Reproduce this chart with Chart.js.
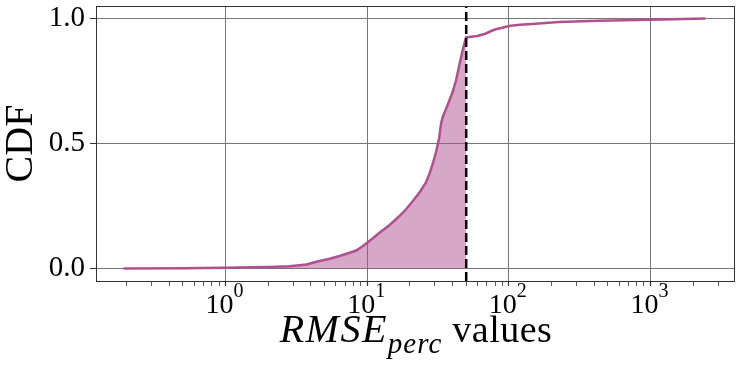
<!DOCTYPE html>
<html>
<head>
<meta charset="utf-8">
<script src="https://cdn.jsdelivr.net/npm/chart.js@4.4.1/dist/chart.umd.min.js"></script>
<style>
  html, body { margin: 0; padding: 0; background: #ffffff; }
  #wrap { width: 741px; height: 368px; position: relative; }
</style>
</head>
<body>
<div id="wrap"><canvas id="c" width="741" height="368"></canvas></div>
<script>
// ---- data ----
const rmseValues = [0.19, 0.5, 1.0, 2.0, 2.84, 3.72, 4.37, 4.87, 5.43, 6.38, 7.51, 8.37, 9.32, 10, 10.96, 12.2, 14.4, 16.9, 18.8, 21.0, 23.4, 26.0, 27.5, 29.0, 30.6, 32.3, 33.2, 34.1, 36.0, 38.0, 40.1, 42.4, 44.7, 47.2, 49.8, 50.6, 60, 68.9, 75, 81, 90, 100, 120, 146, 226, 432, 1000, 2440];
const cdfValues  = [0.0, 0.001, 0.003, 0.006, 0.009, 0.016, 0.027, 0.033, 0.039, 0.050, 0.063, 0.072, 0.090, 0.103, 0.121, 0.143, 0.174, 0.210, 0.237, 0.270, 0.304, 0.344, 0.378, 0.418, 0.465, 0.525, 0.579, 0.605, 0.638, 0.672, 0.706, 0.753, 0.813, 0.873, 0.924, 0.925, 0.930, 0.940, 0.950, 0.957, 0.963, 0.970, 0.975, 0.978, 0.986, 0.991, 0.995, 1.0];
const threshold = 50;
const yTickValues = [0, 0.5, 1.0];
const xMajorTicks = [1, 10, 100, 1000];
const xMajorBase = ['10', '10', '10', '10'];
const xMajorExponents = ['0', '1', '2', '3'];
const xMinorTicks = [0.2,0.3,0.4,0.5,0.6,0.7,0.8,0.9, 2,3,4,5,6,7,8,9, 20,30,40,50,60,70,80,90, 200,300,400,500,600,700,800,900, 2000,3000];
const yLimits = [-0.05, 1.05];
const xLimits = [0.1216, 3890];

const lineColor = '#b0508f';
const fillColor = 'rgba(176,80,143,0.5)';
const serif = "'Liberation Serif', 'Times New Roman', serif";

const curvePts = rmseValues.map((v, i) => ({x: v, y: cdfValues[i]}));
const fillPts = curvePts.filter(p => p.x <= threshold);
const vlinePts = [{x: threshold, y: yLimits[0]}, {x: threshold, y: yLimits[1]}];

const framePlugin = {
  id: 'frame',
  afterDatasetsDraw(chart) {
    const {ctx, chartArea: a} = chart;
    ctx.save();
    ctx.strokeStyle = '#333333';
    ctx.lineWidth = 1;
    ctx.strokeRect(Math.round(a.left) + 0.5, Math.round(a.top) + 0.5, Math.round(a.right - a.left), Math.round(a.bottom - a.top));
    ctx.restore();
  }
};

const exponentPlugin = {
  id: 'exponents',
  afterDraw(chart) {
    const ctx = chart.ctx;
    const xs = chart.scales.x;
    const a = chart.chartArea;
    ctx.save();
    ctx.fillStyle = '#000';
    ctx.font = '20px ' + serif;
    ctx.textAlign = 'left';
    ctx.textBaseline = 'alphabetic';
    xMajorTicks.forEach((v, i) => {
      ctx.fillText(xMajorExponents[i], xs.getPixelForValue(v) + 8, a.bottom + 16);
    });
    ctx.restore();
  }
};

const xTitlePlugin = {
  id: 'xtitle',
  afterDraw(chart) {
    const ctx = chart.ctx;
    const a = chart.chartArea;
    const cx = (a.left + a.right) / 2 + 1;
    const baseY = a.bottom + 61;
    const parts = [
      {t: 'RMSE', font: 'italic 40px ' + serif, ls: 1.5, dy: 0},
      {t: 'perc', font: 'italic 29px ' + serif, ls: 1, dy: 11},
      {t: ' values', font: '38px ' + serif, ls: 0.5, dy: 0}
    ];
    ctx.save();
    ctx.fillStyle = '#000';
    ctx.textBaseline = 'alphabetic';
    ctx.textAlign = 'left';
    let total = 0;
    parts.forEach(p => { ctx.font = p.font; ctx.letterSpacing = p.ls + 'px'; p.w = ctx.measureText(p.t).width; total += p.w; });
    let x = cx - total / 2;
    parts.forEach(p => { ctx.font = p.font; ctx.letterSpacing = p.ls + 'px'; ctx.fillText(p.t, x, baseY + p.dy); x += p.w; });
    ctx.restore();
  }
};

new Chart(document.getElementById('c'), {
  type: 'line',
  data: {
    datasets: [
      { label: 'threshold', data: vlinePts, borderColor: '#000', borderWidth: 2.5, borderDash: [9, 4], pointRadius: 0, fill: false, order: 0 },
      { label: 'CDF', data: curvePts, borderColor: lineColor, borderWidth: 2.5, pointRadius: 0, fill: false, tension: 0, order: 1 },
      { label: 'area', data: fillPts, borderWidth: 0, borderColor: 'rgba(0,0,0,0)', backgroundColor: fillColor, pointRadius: 0, fill: 'origin', tension: 0, order: 2 }
    ]
  },
  options: {
    responsive: false,
    animation: false,
    events: [],
    layout: { padding: { left: 0, top: 6, right: 7, bottom: 0 } },
    plugins: { legend: { display: false }, tooltip: { enabled: false } },
    scales: {
      x: {
        type: 'logarithmic',
        min: xLimits[0], max: xLimits[1],
        afterBuildTicks(scale) {
          const t = xMajorTicks.map(v => ({value: v, major: true})).concat(xMinorTicks.map(v => ({value: v, major: false})));
          t.sort((p, q) => p.value - q.value);
          scale.ticks = t;
        },
        afterFit(scale) { scale.height = 87; scale.paddingLeft = 0; scale.paddingRight = 0; },
        border: { display: false },
        grid: {
          color: ctx => (ctx.tick && ctx.tick.major) ? '#777777' : 'rgba(0,0,0,0)',
          tickColor: '#333333',
          tickLength: 5,
          tickWidth: ctx => (ctx.tick && ctx.tick.major) ? 1.2 : 0.8,
          lineWidth: 1
        },
        ticks: {
          autoSkip: false, maxRotation: 0, minRotation: 0, padding: 3,
          labelOffset: -6,
          color: '#000',
          font: { family: serif, size: 28 },
          callback: (v) => { const i = xMajorTicks.indexOf(v); return i >= 0 ? xMajorBase[i] : ''; }
        },
        title: { display: false }
      },
      y: {
        type: 'linear',
        min: yLimits[0], max: yLimits[1],
        afterBuildTicks(scale) { scale.ticks = yTickValues.map(v => ({value: v})); },
        afterFit(scale) { scale.width = 96; scale.paddingTop = 0; scale.paddingBottom = 0; },
        border: { display: false },
        grid: { color: '#777777', tickColor: '#333333', tickLength: 6, lineWidth: 1 },
        ticks: {
          padding: 5, color: '#000',
          font: { family: serif, size: 29 },
          callback: v => v.toFixed(1)
        },
        title: {
          display: true, text: 'CDF', color: '#000',
          font: { family: serif, size: 40, lineHeight: 1 },
          padding: { top: 1, bottom: 0 }
        }
      }
    }
  },
  plugins: [framePlugin, exponentPlugin, xTitlePlugin]
});
</script>
</body>
</html>
